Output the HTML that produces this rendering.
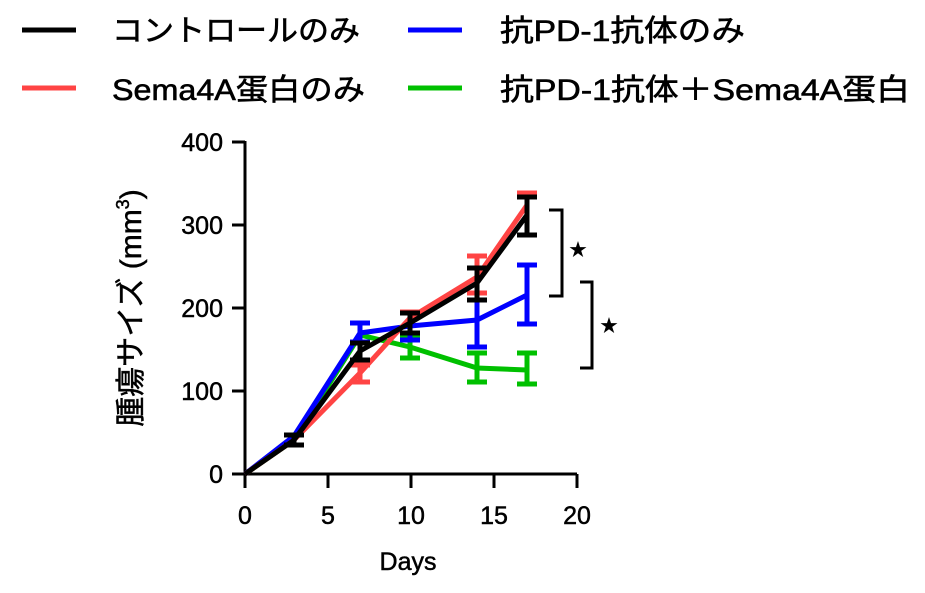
<!DOCTYPE html>
<html><head><meta charset="utf-8"><style>
body{margin:0;background:#fff;}
svg text{font-family:"Liberation Sans","Noto Sans CJK JP",sans-serif;}
</style></head><body>
<svg width="925" height="588" viewBox="0 0 925 588" xmlns="http://www.w3.org/2000/svg">
<g font-size="30" fill="#000" stroke="#000" stroke-width="0.6">
<line x1="22" y1="30" x2="76" y2="30" stroke="#000" stroke-width="5"/>
<text x="112" y="41" textLength="248" lengthAdjust="spacingAndGlyphs">コントロールのみ</text>
<line x1="408" y1="30" x2="462" y2="30" stroke="#0000ff" stroke-width="5"/>
<text x="500" y="41" textLength="245" lengthAdjust="spacingAndGlyphs">抗PD-1抗体のみ</text>
<line x1="22" y1="88" x2="76" y2="88" stroke="#f44" stroke-width="5"/>
<text x="112" y="100" textLength="253" lengthAdjust="spacingAndGlyphs">Sema4A蛋白のみ</text>
<line x1="408" y1="88" x2="462" y2="88" stroke="#00c000" stroke-width="5"/>
<text x="500" y="100" textLength="410" lengthAdjust="spacingAndGlyphs">抗PD-1抗体＋Sema4A蛋白</text>
</g>
<g stroke="#000" stroke-width="3" fill="none">
<line x1="245" y1="141" x2="245" y2="488"/>
<line x1="244" y1="474" x2="577" y2="474"/>
<line x1="232" y1="142" x2="245" y2="142"/>
<line x1="232" y1="225" x2="245" y2="225"/>
<line x1="232" y1="308" x2="245" y2="308"/>
<line x1="232" y1="391" x2="245" y2="391"/>
<line x1="232" y1="474" x2="245" y2="474"/>
<line x1="328" y1="474" x2="328" y2="488"/>
<line x1="411" y1="474" x2="411" y2="488"/>
<line x1="494" y1="474" x2="494" y2="488"/>
<line x1="577" y1="474" x2="577" y2="488"/>
</g>
<g font-size="25" text-anchor="end" stroke="#000" stroke-width="0.5">
<text x="223" y="151">400</text><text x="223" y="234">300</text><text x="223" y="317">200</text><text x="223" y="400">100</text><text x="223" y="483">0</text>
</g>
<g font-size="25" text-anchor="middle" stroke="#000" stroke-width="0.5">
<text x="245" y="524">0</text><text x="328" y="524">5</text><text x="411" y="524">10</text><text x="494" y="524">15</text><text x="577" y="524">20</text>
<text x="408" y="570">Days</text>
</g>
<text transform="translate(141,308) rotate(-90)" font-size="30" text-anchor="middle" stroke="#000" stroke-width="0.5">腫瘍サイズ (mm<tspan font-size="18" dy="-12">3</tspan><tspan dy="12">)</tspan></text>
<g fill="none" stroke-width="5">
<g stroke="#00c000">
<polyline points="245,474 294,440 360,335 410,347 477,368 527,370"/>
<path d="M410,338V358M400,338h20M400,358h20 M477,353V382M467,353h20M467,382h20 M527,353V384M517,353h20M517,384h20"/>
</g>
<g stroke="#0000ff">
<polyline points="245,474 294,436 360,333 410,326 477,320 527,295"/>
<path d="M360,323V342M350,323h20M350,342h20 M410,318V340M400,340h20 M477,300V347M467,300h20M467,347h20 M527,265V324M517,265h20M517,324h20"/>
</g>
<g stroke="#f44">
<polyline points="245,474 294,440 360,373 410,318 477,277 527,205"/>
<path d="M360,365V382M350,365h20M350,382h20 M410,312V326M400,312h20 M477,256V293M467,256h20M467,293h20 M527,193V222M517,193h20"/>
</g>
<g stroke="#000">
<polyline points="245,474 294,440 360,351 410,323 477,283 527,215"/>
<path d="M294,435V445M284,435h20M284,445h20 M360,343V360M350,343h20M350,360h20 M410,313V333M400,313h20M400,333h20 M477,268V300M467,268h20M467,300h20 M527,197V235M517,197h20M517,235h20"/>
</g>
</g>
<g stroke="#000" stroke-width="3" fill="none">
<path d="M549,210H562V296H549"/>
<path d="M580,282H592V368H580"/>
</g>
<g font-size="18" text-anchor="middle"><text x="578" y="256">★</text><text x="609" y="332">★</text></g>
</svg>
</body></html>
